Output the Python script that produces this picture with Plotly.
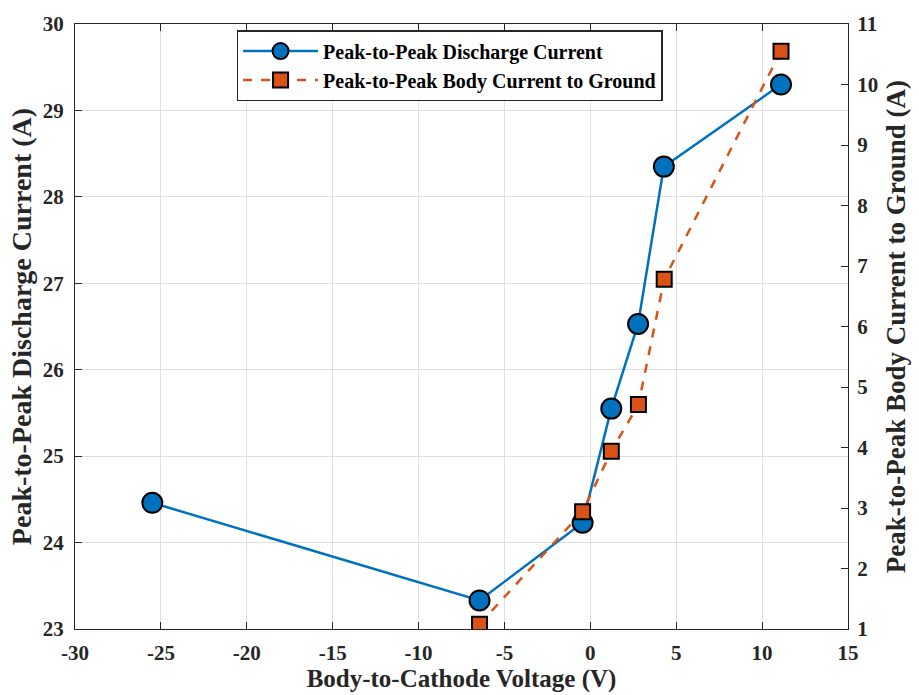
import plotly.graph_objects as go

voltage = [-25.5, -6.45, -0.45, 1.22, 2.78, 4.28, 11.1]
discharge_current = [24.46, 23.33, 24.23, 25.55, 26.53, 28.35, 29.30]
voltage_body = [-6.45, -0.45, 1.22, 2.8, 4.3, 11.1]
body_current = [1.08, 2.94, 3.94, 4.71, 6.78, 10.55]

x_ticks = [-30, -25, -20, -15, -10, -5, 0, 5, 10, 15]
left_ticks = [23, 24, 25, 26, 27, 28, 29, 30]
right_ticks = [1, 2, 3, 4, 5, 6, 7, 8, 9, 10, 11]

FONT = "Liberation Serif"
BLUE = "#0072BD"
ORANGE = "#D95319"

fig = go.Figure()
fig.add_trace(go.Scatter(
    x=voltage, y=discharge_current, mode="lines+markers",
    name="<b>Peak-to-Peak Discharge Current</b>",
    line=dict(color=BLUE, width=2.5),
    marker=dict(symbol="circle", size=20, color=BLUE, line=dict(color="black", width=2)),
    yaxis="y"))
fig.add_trace(go.Scatter(
    x=voltage_body, y=body_current, mode="lines+markers",
    name="<b>Peak-to-Peak Body Current to Ground</b>",
    line=dict(color=ORANGE, width=2.5, dash="dash"),
    marker=dict(symbol="square", size=15, color=ORANGE, line=dict(color="black", width=2)),
    yaxis="y2"))

tickfont = dict(family=FONT, size=21, color="#262626")

fig.update_layout(
    width=919, height=695,
    margin=dict(l=75, r=71, t=20, b=65),
    paper_bgcolor="white", plot_bgcolor="white",
    font=dict(family=FONT),
    showlegend=True,
    legend=dict(x=0.209, y=0.99, xanchor="left", yanchor="top",
                bgcolor="white", bordercolor="#262626", borderwidth=1.5,
                font=dict(family=FONT, size=20, color="black"),
                tracegroupgap=0, itemwidth=75),
    xaxis=dict(range=[-30, 15], tickvals=x_ticks,
               ticktext=[f"<b>{v}</b>" for v in x_ticks],
               tickfont=tickfont, showgrid=True, gridcolor="#e0e0e0", gridwidth=1,
               zeroline=False, showline=True, linecolor="#262626", linewidth=1.2,
               mirror="ticks", ticks="inside", ticklen=7, tickcolor="#262626",
               ticklabelstandoff=5,
               title=dict(text="<b>Body-to-Cathode Voltage (V)</b>",
                          font=dict(family=FONT, size=25, color="#262626"), standoff=0)),
    yaxis=dict(range=[23, 30], tickvals=left_ticks,
               ticktext=[f"<b>{v}</b>" for v in left_ticks],
               tickfont=tickfont, showgrid=True, gridcolor="#e0e0e0", gridwidth=1,
               zeroline=False, showline=True, linecolor="#262626", linewidth=1.2,
               ticks="inside", ticklen=7, tickcolor="#262626",
               ticklabelstandoff=6,
               title=dict(text="<b>Peak-to-Peak Discharge Current (A)</b>",
                          font=dict(family=FONT, size=28, color="#262626"), standoff=2)),
    yaxis2=dict(range=[1, 11], tickvals=right_ticks,
                ticktext=[f"<b>{v}</b>" for v in right_ticks],
                tickfont=tickfont, overlaying="y", side="right", showgrid=False,
                zeroline=False, showline=True, linecolor="#262626", linewidth=1.2,
                ticks="inside", ticklen=7, tickcolor="#262626",
                ticklabelstandoff=4,
                title=dict(text="<b>Peak-to-Peak Body Current to Ground (A)</b>",
                           font=dict(family=FONT, size=27, color="#262626"), standoff=8)),
)

fig.write_html("out.html")
